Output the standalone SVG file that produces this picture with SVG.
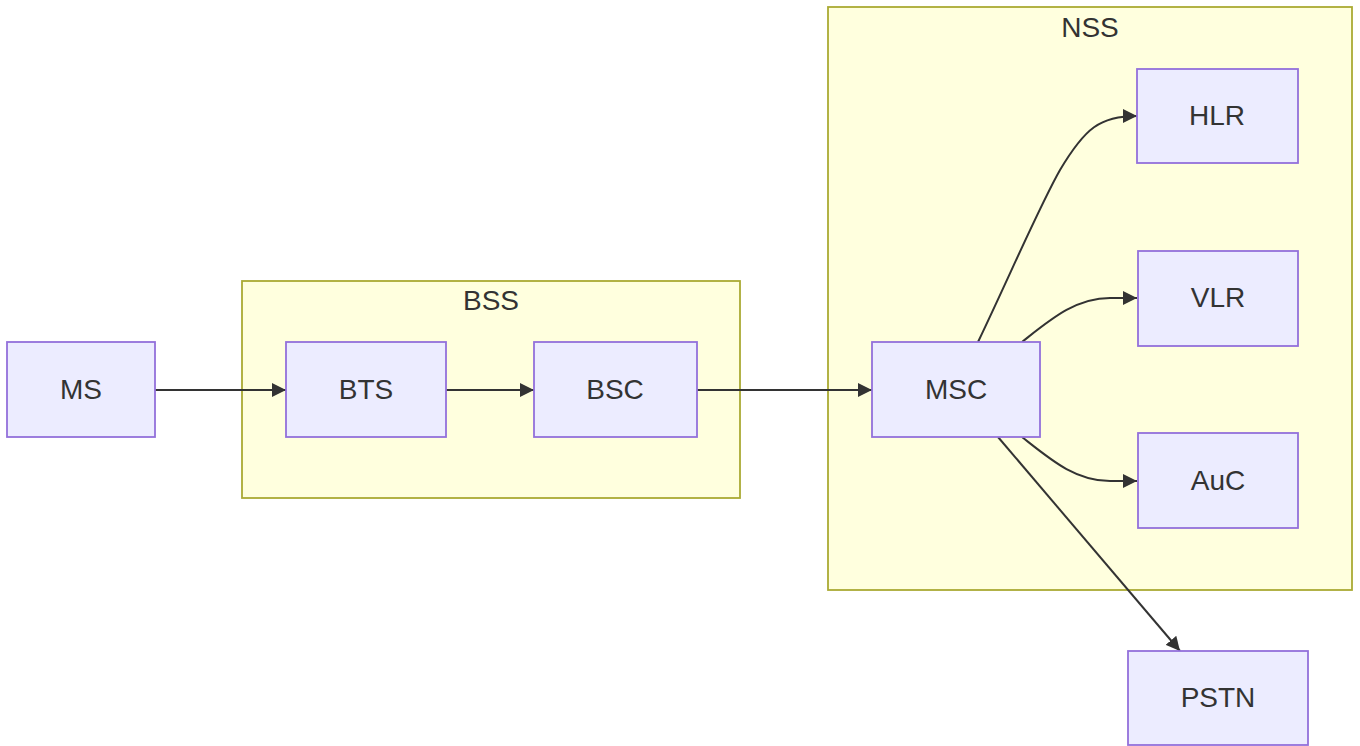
<svg xmlns="http://www.w3.org/2000/svg" width="1360" height="746" viewBox="0 0 1360 746">
<style>
.cluster rect{fill:#ffffde;stroke:#aaaa33;stroke-width:1.8}
.node rect{fill:#ECECFF;stroke:#9370DB;stroke-width:1.8}
text{font-family:"Liberation Sans",Arial,sans-serif;font-size:28px;fill:#333;text-anchor:middle}
.edge{fill:none;stroke:#333;stroke-width:2}
</style>
<defs>
<marker id="arrow" viewBox="0 0 10 10" refX="10" refY="5" markerUnits="userSpaceOnUse" markerWidth="14" markerHeight="14" orient="auto">
<path d="M0,0 L10,5 L0,10 z" fill="#333"/>
</marker>
</defs>
<rect width="1360" height="746" fill="#fff"/>
<g id="cluster-BSS" class="cluster"><rect x="242" y="281" width="498" height="217"/><text x="491" y="310">BSS</text></g>
<g id="cluster-NSS" class="cluster"><rect x="828" y="7" width="524" height="583"/><text x="1090" y="37">NSS</text></g>
<g id="connectors">
<path class="edge" d="M155,390 L286,390" marker-end="url(#arrow)"/>
<path class="edge" d="M446,390 L534,390" marker-end="url(#arrow)"/>
<path class="edge" d="M697,390 L872,390" marker-end="url(#arrow)"/>
<path class="edge" d="M978,342 C1010,275 1040,205 1060,170 C1085,128 1100,116 1137,116" marker-end="url(#arrow)"/>
<path class="edge" d="M1022,342 C1050,320 1075,298 1110,298 L1137,298" marker-end="url(#arrow)"/>
<path class="edge" d="M1022,437 C1050,459 1075,481 1110,481 L1137,481" marker-end="url(#arrow)"/>
<path class="edge" d="M998,437 L1180,651" marker-end="url(#arrow)"/>
</g>
<g id="MS" class="node"><rect x="7" y="342" width="148" height="95"/><text x="81" y="399">MS</text></g>
<g id="BTS" class="node"><rect x="286" y="342" width="160" height="95"/><text x="366" y="399">BTS</text></g>
<g id="BSC" class="node"><rect x="534" y="342" width="163" height="95"/><text x="615" y="399">BSC</text></g>
<g id="MSC" class="node"><rect x="872" y="342" width="168" height="95"/><text x="956" y="399">MSC</text></g>
<g id="HLR" class="node"><rect x="1137" y="69" width="161" height="94"/><text x="1217" y="125">HLR</text></g>
<g id="VLR" class="node"><rect x="1138" y="251" width="160" height="95"/><text x="1218" y="307">VLR</text></g>
<g id="AuC" class="node"><rect x="1138" y="433" width="160" height="95"/><text x="1218" y="490">AuC</text></g>
<g id="PSTN" class="node"><rect x="1128" y="651" width="180" height="94"/><text x="1218" y="707">PSTN</text></g>
</svg>
